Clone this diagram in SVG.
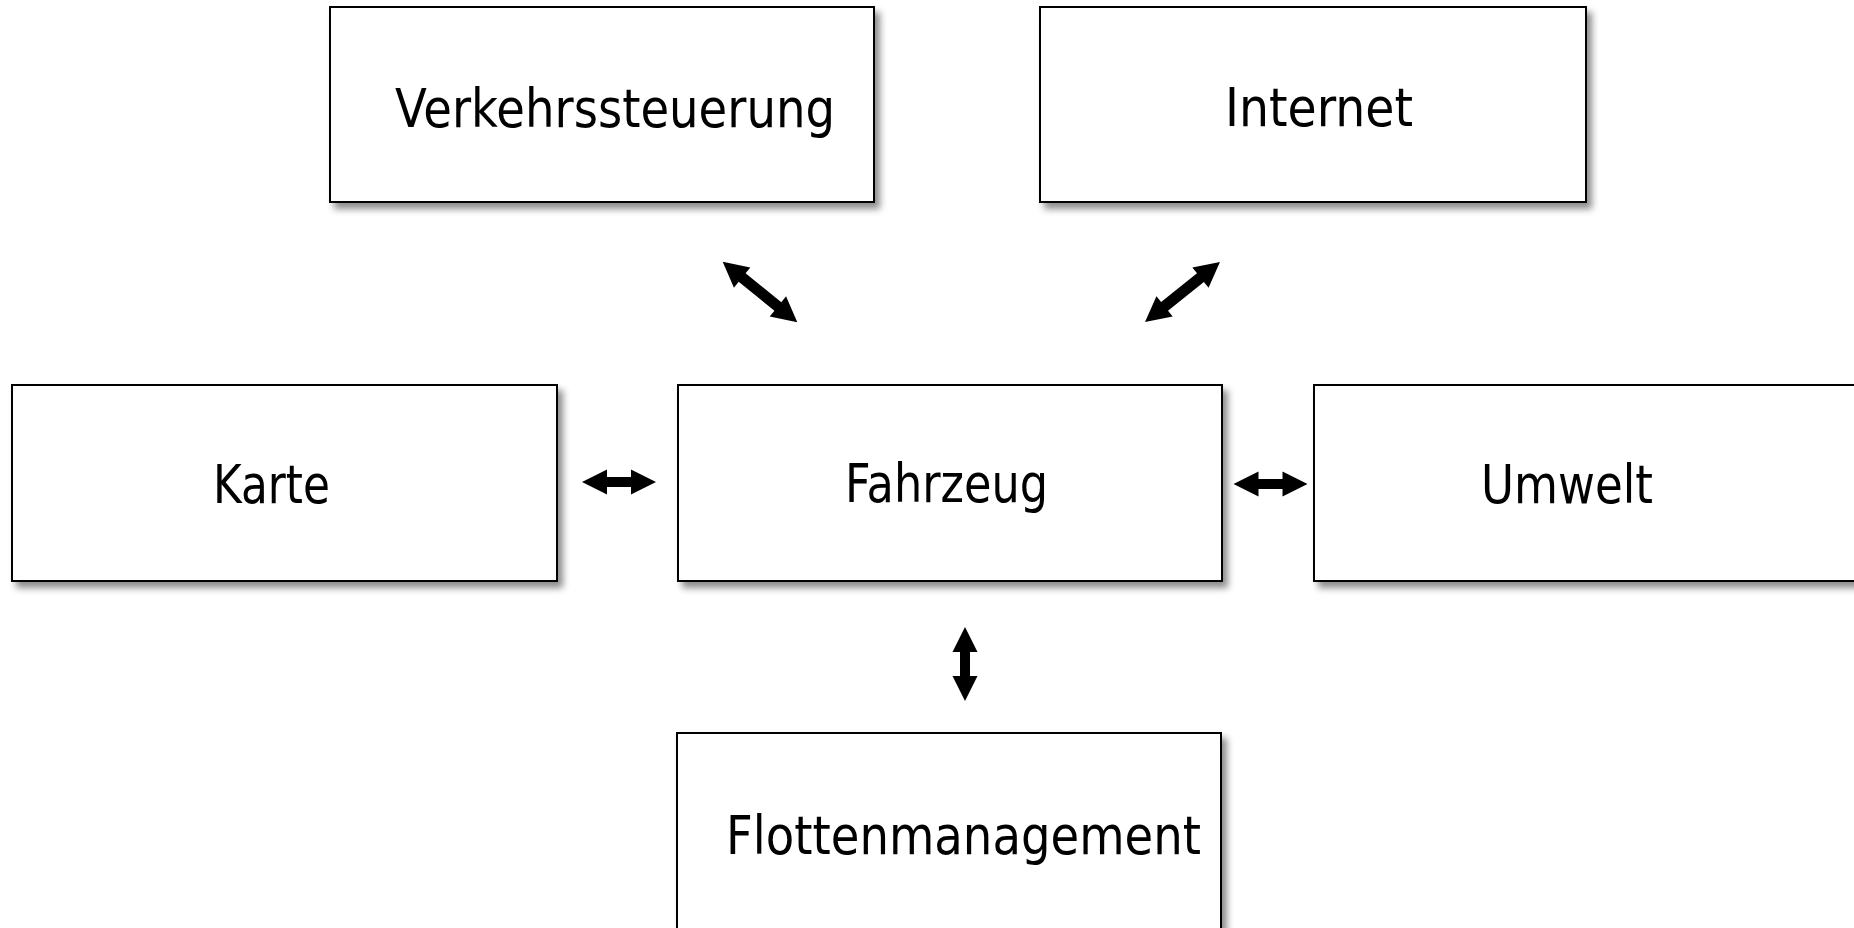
<svg xmlns="http://www.w3.org/2000/svg" width="1854" height="928" viewBox="0 0 1854 928">
  <style>
    .box { fill: #ffffff; stroke: #000000; stroke-width: 2; filter: url(#shadow); }
    .lbl { font-family: "DejaVu Sans", "Liberation Sans", sans-serif; font-size: 54px; fill: #000000; }
    .arr { fill: #000000; stroke: none; }
  </style>
  <defs>
    <filter id="shadow" x="-10%" y="-10%" width="125%" height="130%">
      <feDropShadow dx="5" dy="6" stdDeviation="3.5" flood-color="#000000" flood-opacity="0.45"/>
    </filter>
    <path id="dbl74" d="M-37,0 L-12,-12.5 L-12,-5 L12,-5 L12,-12.5 L37,0 L12,12.5 L12,5 L-12,5 L-12,12.5 Z"/>
    <path id="dbl96" d="M-48,0 L-23,-13 L-23,-5.5 L23,-5.5 L23,-13 L48,0 L23,13 L23,5.5 L-23,5.5 L-23,13 Z"/>
  </defs>
  <rect width="1854" height="928" fill="#ffffff"/>

  <g id="verkehrssteuerung">
    <rect class="box" x="330" y="7" width="544" height="195"/>
    <text class="lbl" x="395" y="127" textLength="440" lengthAdjust="spacingAndGlyphs">Verkehrssteuerung</text>
  </g>
  <g id="internet">
    <rect class="box" x="1040" y="7" width="546" height="195"/>
    <text class="lbl" x="1225" y="126" textLength="188" lengthAdjust="spacingAndGlyphs">Internet</text>
  </g>
  <g id="karte">
    <rect class="box" x="12" y="385" width="545" height="196"/>
    <text class="lbl" x="213" y="503" textLength="117" lengthAdjust="spacingAndGlyphs">Karte</text>
  </g>
  <g id="fahrzeug">
    <rect class="box" x="678" y="385" width="544" height="196"/>
    <text class="lbl" x="845" y="502" textLength="203" lengthAdjust="spacingAndGlyphs">Fahrzeug</text>
  </g>
  <g id="umwelt">
    <rect class="box" x="1314" y="385" width="600" height="196"/>
    <text class="lbl" x="1481" y="503" textLength="172" lengthAdjust="spacingAndGlyphs">Umwelt</text>
  </g>
  <g id="flottenmanagement">
    <rect class="box" x="677" y="733" width="544" height="300"/>
    <text class="lbl" x="726" y="854" textLength="475" lengthAdjust="spacingAndGlyphs">Flottenmanagement</text>
  </g>

  <g id="connectors">
    <use class="arr" href="#dbl96" transform="translate(760,292) rotate(39)"/>
    <use class="arr" href="#dbl96" transform="translate(1182.5,292) rotate(-38.7)"/>
    <use class="arr" href="#dbl74" transform="translate(619,482)"/>
    <use class="arr" href="#dbl74" transform="translate(1270.5,484)"/>
    <use class="arr" href="#dbl74" transform="translate(965,664) rotate(90)"/>
  </g>
</svg>
